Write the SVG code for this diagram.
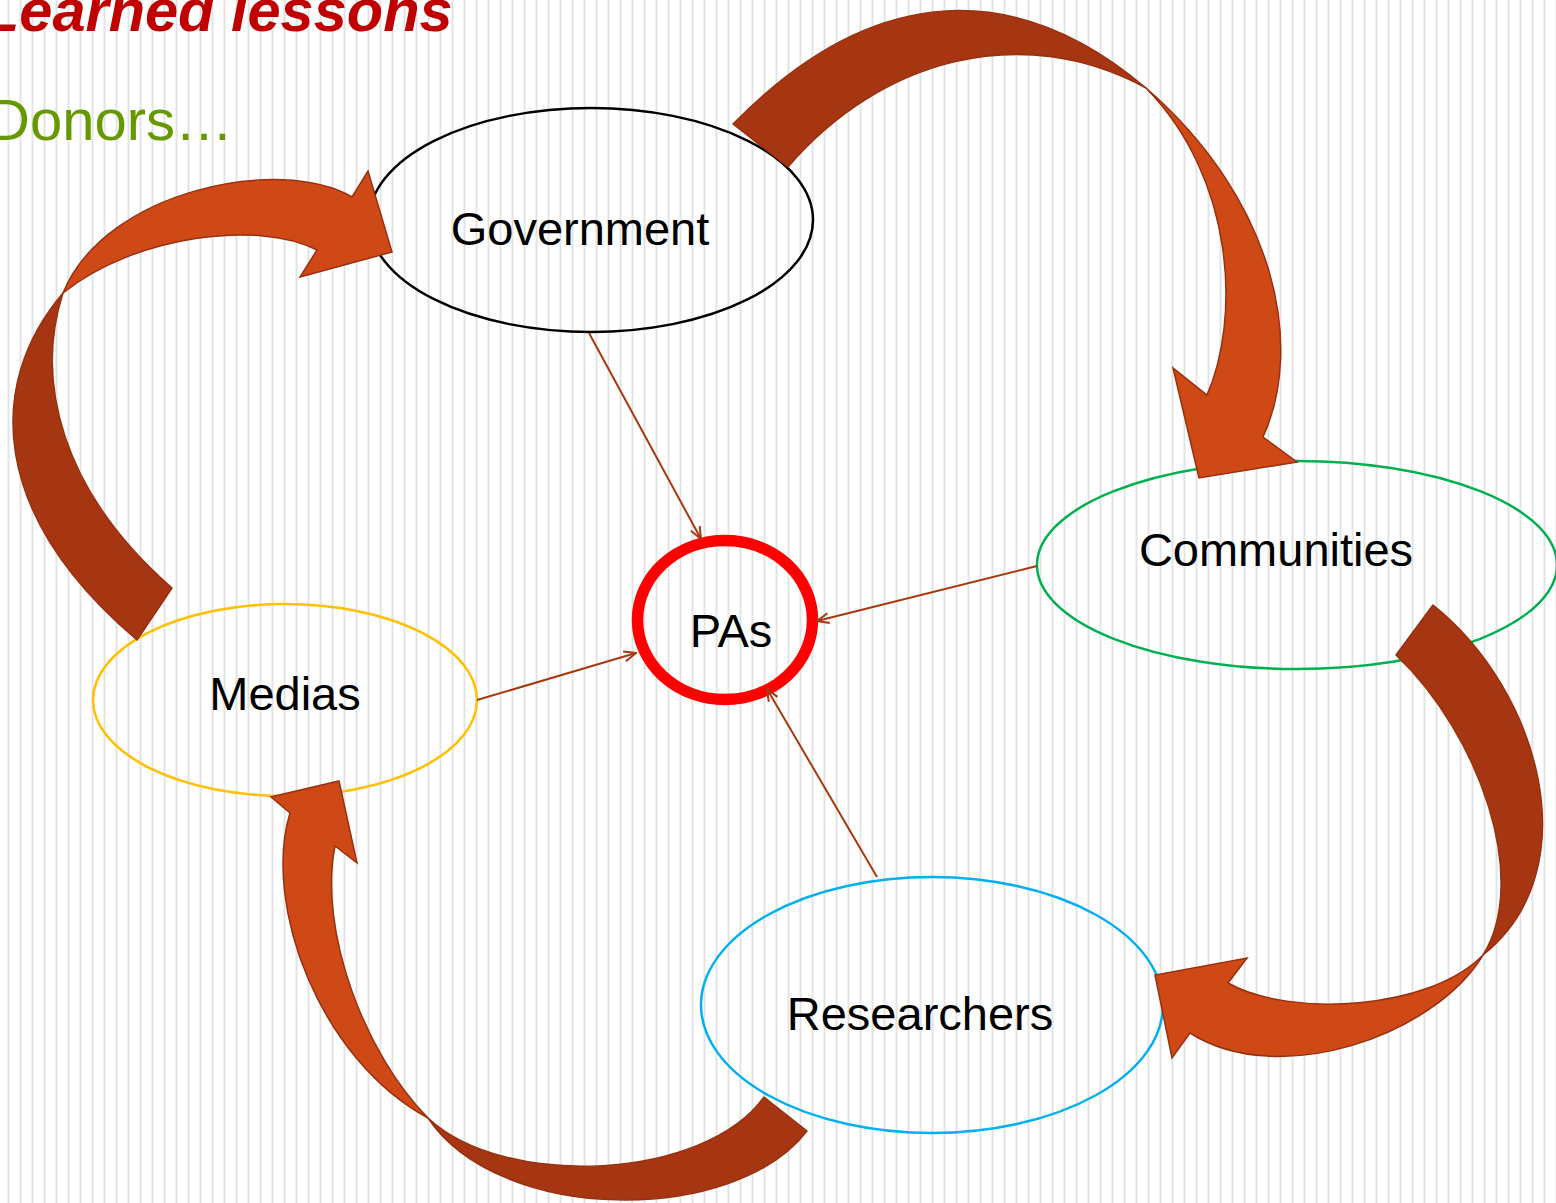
<svg xmlns="http://www.w3.org/2000/svg" width="1556" height="1203" viewBox="0 0 1556 1203">
  <defs>
    <pattern id="stripes" x="0" y="0" width="12" height="12" patternUnits="userSpaceOnUse">
      <rect x="7.5" y="0" width="2" height="12" fill="#e3e3e3"/>
    </pattern>
    <marker id="open-head" viewBox="0 0 14 12" refX="13" refY="6" markerWidth="14" markerHeight="12" markerUnits="userSpaceOnUse" orient="auto">
      <path d="M1,1 L13,6 L1,11" fill="none" stroke="#a8380f" stroke-width="2"/>
    </marker>
  </defs>
  <style>
    .node-shape { fill: none; stroke-width: 2.5; }
    .label { font-family: "Liberation Sans", Arial, sans-serif; font-size: 47px; fill: #000; text-anchor: middle; }
    .link { stroke: #a8380f; stroke-width: 2; fill: none; marker-end: url(#open-head); }
    .band-back { fill: #a63612; stroke: #98300f; stroke-width: 1.5; stroke-linejoin: round; }
    .band-front { fill: #cf4917; stroke: #98300f; stroke-width: 1.5; stroke-linejoin: miter; }
  </style>

  <!-- striped page background -->
  <rect width="1556" height="1203" fill="#ffffff"/>
  <rect width="1556" height="1203" fill="url(#stripes)"/>

  <!-- slide headings -->
  <text x="-17" y="31" font-family="'Liberation Sans', Arial, sans-serif" font-size="59.5" font-weight="bold" font-style="italic" fill="#c00000">Learned lessons</text>
  <text x="-12" y="140" font-family="'Liberation Sans', Arial, sans-serif" font-size="58" fill="#669900">Donors…</text>

  <!-- actors -->
  <g id="government">
    <ellipse class="node-shape" cx="591" cy="220" rx="222" ry="112" stroke="#000000"/>
    <text class="label" x="580" y="245">Government</text>
  </g>
  <g id="communities">
    <ellipse class="node-shape" cx="1297" cy="565" rx="260" ry="104" stroke="#00b050"/>
    <text class="label" x="1276" y="566">Communities</text>
  </g>
  <g id="medias">
    <ellipse class="node-shape" cx="285" cy="700" rx="192" ry="96" stroke="#ffc000"/>
    <text class="label" x="285" y="710">Medias</text>
  </g>
  <g id="researchers">
    <ellipse class="node-shape" cx="932" cy="1005" rx="231" ry="128" stroke="#00b0f0"/>
    <text class="label" x="920" y="1030">Researchers</text>
  </g>
  <g id="pas">
    <ellipse cx="725" cy="620" rx="87.5" ry="79.5" fill="none" stroke="#ff0000" stroke-width="11.5"/>
    <text class="label" x="731" y="647">PAs</text>
  </g>

  <!-- thin links towards the protected areas -->
  <g id="links">
    <line class="link" x1="589" y1="333" x2="701" y2="539"/>
    <line class="link" x1="1037" y1="566" x2="817" y2="621"/>
    <line class="link" x1="477" y1="700" x2="636" y2="653"/>
    <line class="link" x1="877" y1="877" x2="767" y2="689"/>
  </g>

  <!-- big curved cycle arrows: back band + front band with head -->
  <g id="cycle-arrows">
    <g id="arrow-gov-comm">
      <path class="band-back" d="M733,124 C873,-19 1016,-22 1146,88 C1020,20 880,60 788,167 Z"/>
      <path class="band-front" d="M1146,88 C1275,200 1305,345 1263,437 L1297,462 L1199,478 L1173,368 L1207,395 C1240,320 1236,180 1146,88 Z"/>
    </g>
    <g id="arrow-comm-res">
      <path class="band-back" d="M1433,605 C1540,690 1590,870 1483,955 C1530,880 1480,735 1396,655 Z"/>
      <path class="band-front" d="M1483,955 C1435,1035 1280,1090 1190,1033 L1172,1058 L1155,975 L1247,958 L1228,983 C1290,1018 1430,1010 1483,955 Z"/>
    </g>
    <g id="arrow-res-med">
      <path class="band-back" d="M807,1131 C735,1225 500,1225 428,1118 C505,1190 705,1180 764,1097 Z"/>
      <path class="band-front" d="M428,1118 C320,1060 262,905 290,813 L271,797 L339,781 L357,863 L335,846 C318,930 365,1055 428,1118 Z"/>
    </g>
    <g id="arrow-med-gov">
      <path class="band-back" d="M137,640 C-10,515 -15,385 63,293 C35,380 60,490 172,588 Z"/>
      <path class="band-front" d="M63,293 C105,190 280,155 352,197 L368,171 L392,252 L300,277 L317,250 C260,220 135,235 63,293 Z"/>
    </g>
  </g>
</svg>
